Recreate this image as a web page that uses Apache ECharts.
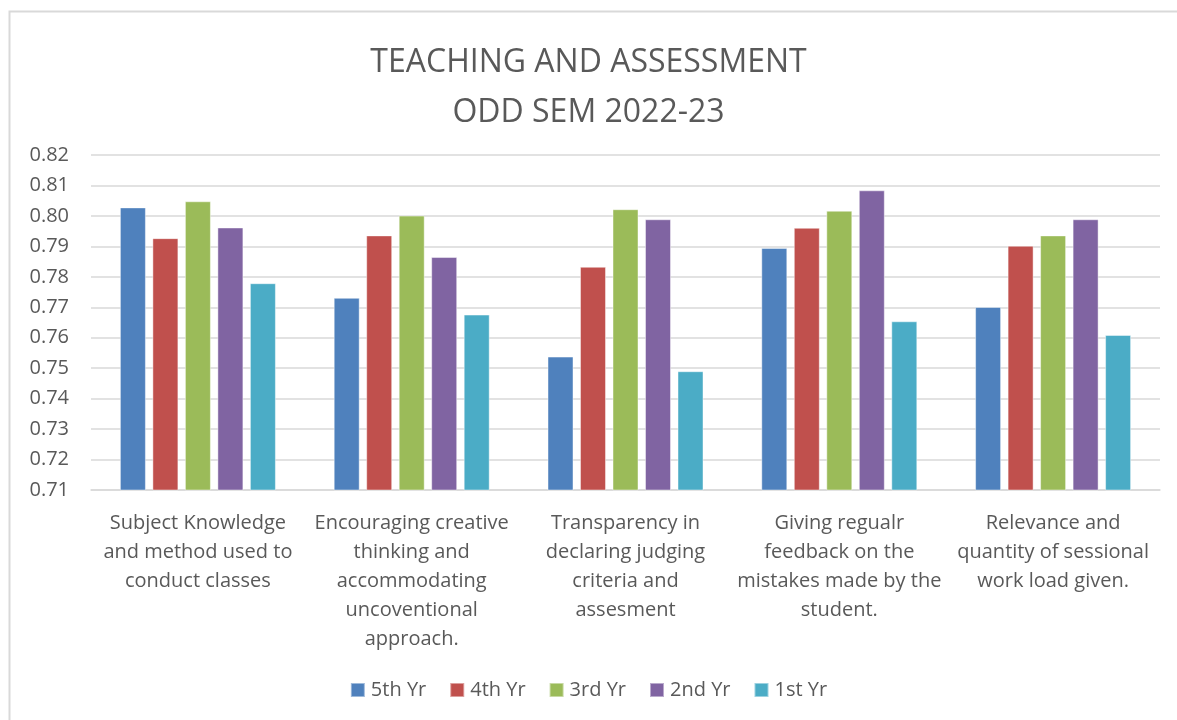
<!DOCTYPE html>
<html>
<head>
<meta charset="utf-8">
<script src="https://cdn.jsdelivr.net/npm/echarts@6/dist/echarts.min.js"></script>
<style>
html, body { margin: 0; padding: 0; background: #fff; }
#chart { width: 1177px; height: 720px; }
</style>
</head>
<body>
<div id="chart"></div>
<script>
var categories = [
  "Subject Knowledge\nand method used to\nconduct classes",
  "Encouraging creative\nthinking and\naccommodating\nuncoventional\napproach.",
  "Transparency in\ndeclaring judging\ncriteria and\nassesment",
  "Giving regualr\nfeedback on the\nmistakes made by the\nstudent.",
  "Relevance and\nquantity of sessional\nwork load given."
];
var seriesNames = ["5th Yr", "4th Yr", "3rd Yr", "2nd Yr", "1st Yr"];
var yr5 = [0.8028, 0.7731, 0.7538, 0.7895, 0.7701];
var yr4 = [0.7927, 0.7936, 0.7833, 0.7961, 0.7902];
var yr3 = [0.8048, 0.8001, 0.8022, 0.8017, 0.7936];
var yr2 = [0.7962, 0.7865, 0.7989, 0.8084, 0.7989];
var yr1 = [0.7779, 0.7676, 0.7490, 0.7654, 0.7609];
var colors = ["#4F81BD", "#C0504D", "#9BBB59", "#8064A2", "#4BACC6"];

var chart = echarts.init(document.getElementById("chart"));
var font = "'Open Sans', sans-serif";
var allData = [yr5, yr4, yr3, yr2, yr1];

var series = [];
for (var i = 0; i < seriesNames.length; i++) {
  series.push({
    name: seriesNames[i],
    type: "bar",
    data: allData[i],
    barWidth: 26,
    barGap: "25%",
    itemStyle: { color: colors[i], borderColor: "rgba(255,255,255,0.45)", borderWidth: 1 }
  });
}

var option = {
  animation: false,
  backgroundColor: "#fff",
  color: colors,
  graphic: [{
    type: "rect",
    shape: { x: 9.5, y: 11.5, width: 1300, height: 900 },
    style: { fill: "none", stroke: "#d9d9d9", lineWidth: 2 },
    silent: true
  }],
  title: {
    text: "TEACHING AND ASSESSMENT\nODD SEM 2022-23",
    left: "center",
    top: 33,
    textStyle: {
      fontFamily: font,
      fontSize: 32,
      fontWeight: "normal",
      color: "#595959",
      lineHeight: 50
    }
  },
  legend: {
    data: seriesNames,
    bottom: 15,
    left: "center",
    itemWidth: 14,
    itemHeight: 14,
    itemGap: 23,
    icon: "rect",
    textStyle: { fontFamily: font, fontSize: 20, color: "#595959", padding: [0, 0, 0, 1] }
  },
  grid: { left: 91, right: 17, top: 155, bottom: 230 },
  xAxis: {
    type: "category",
    data: categories,
    axisTick: { show: false },
    axisLine: { lineStyle: { color: "#d9d9d9", width: 1.5 } },
    axisLabel: {
      interval: 0,
      margin: 19,
      fontFamily: font,
      fontSize: 20,
      lineHeight: 29,
      color: "#595959"
    }
  },
  yAxis: {
    type: "value",
    min: 0.71,
    max: 0.82,
    interval: 0.01,
    axisLine: { show: false },
    axisTick: { show: false },
    splitLine: { lineStyle: { color: "#d9d9d9", width: 1.5 } },
    axisLabel: {
      margin: 22,
      fontFamily: font,
      fontSize: 20,
      color: "#595959",
      formatter: function (v) { return v.toFixed(2); }
    }
  },
  series: series
};
chart.setOption(option);
</script>
</body>
</html>
